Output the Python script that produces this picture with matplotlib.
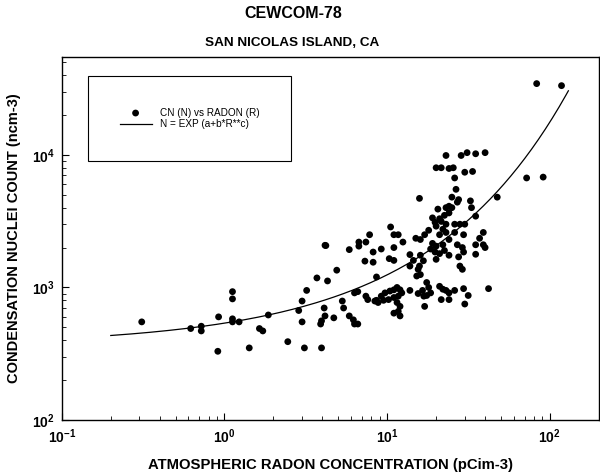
import numpy as np
import matplotlib
matplotlib.use("Agg")
import matplotlib.pyplot as plt
from matplotlib.ticker import FuncFormatter, LogLocator

plt.rcParams['font.family'] = ['Liberation Sans', 'DejaVu Sans']
plt.rcParams['mathtext.fontset'] = 'custom'
plt.rcParams['mathtext.rm'] = 'Liberation Sans'
plt.rcParams['mathtext.bf'] = 'Liberation Sans:bold'

# === DATA ===
radon = [
    # low radon end
    0.31, 0.62, 0.72, 0.72, 0.92, 0.91, 1.12, 1.12, 1.12, 1.12, 1.23, 1.42,
    1.64, 1.72, 1.86, 2.45, 2.86, 3.0, 3.0, 3.1, 3.2, 3.7, 3.95, 3.9, 3.95,
    4.1, 4.15, 4.2, 4.3, 4.15, 4.7, 4.9, 5.3, 5.4, 5.85, 5.85, 6.2, 6.3, 6.6,
    6.3, 6.6, 6.7, 6.7, 7.4, 7.8, 7.3, 7.6,
    # middle
    23, 20, 21.5, 24, 15.8, 20.5, 24, 19, 19.7, 21, 22.5, 10.5, 11, 11.7, 12.5,
    15, 16, 17, 18, 19, 20, 22, 24, 18.5, 19.7, 21, 22.5, 24, 8.2, 9.2, 11,
    8.2, 10.3, 11, 13.8, 16, 16.7, 15.8, 15.5, 20, 8.6, 13.8, 16, 17.5, 18,
    18.5, 16.5, 15.5, 16.8, 17.5, 21, 22, 24, 21.5, 24, 17, 13.8,
    9.7, 10.4, 11, 11.5, 12, 12.3, 11.7, 11, 10.2, 9.5, 8.8, 8.4, 11.5, 12,
    11.7, 12, 11, 7.4, 8.6, 9.2, 14.5, 15.2, 21, 23, 20,
    # upper / right side
    28.5, 31, 35, 40, 25.5, 30, 33.5, 26, 72, 26.5, 47.5, 25, 27.5, 27, 32.5,
    33, 23, 25, 24, 21.5, 35, 26, 28, 30, 23, 22, 26, 29.5, 39, 37, 35, 39,
    40, 35, 27, 29, 29.5, 27.5, 28, 29, 23, 26, 29.5, 31.5, 30, 42,
    83, 118, 91,
]
cn = [
    550, 490, 510, 470, 600, 330, 930, 820, 580, 550, 550, 350,
    490, 470, 620, 390, 670, 790, 550, 350, 950, 1180, 350, 530, 560,
    700, 2080, 2070, 1120, 610, 590, 1350, 790, 700, 1930, 610, 570, 530, 530,
    910, 930, 2050, 2200, 2200, 2500, 1580, 810,
    9900, 8000, 8000, 7900, 4700, 3900, 4100, 3350, 3100, 3300, 3500, 2860, 2500, 2500, 2200,
    2350, 2300, 2500, 2700, 2150, 2050, 2100, 2300, 1950, 1850, 1800, 1900, 1750, 1850, 1950, 2000,
    1550, 1650, 1600, 1770, 1750, 1590, 1450, 1370, 1630, 1200, 1450, 1250, 1090, 1000,
    910, 950, 900, 860, 870, 1020, 970, 910, 810, 810, 720, 950,
    910, 940, 960, 1000, 960, 910, 860, 840, 810, 800, 770, 790, 770, 720,
    660, 610, 640, 860, 800, 860, 1600, 1220, 2500, 2600, 2900,
    9900, 10400, 10200, 10400, 8000, 7400, 7500, 6700, 6700, 5500, 4800, 4800, 4600, 4400, 4500,
    4000, 4000, 4000, 3650, 3150, 3450, 3000, 3000, 3000, 3000, 2750, 2600, 2500, 2600, 2350, 2100, 2100,
    2000, 1780, 2100, 2000, 1850, 1700, 1450, 1370, 950, 950, 980, 870, 750, 980,
    34500, 33300, 6800,
]

# fitted curve N = EXP(a + b*R**c), coefficients estimated from the drawn line
a, b, c = 5.9, 0.388, 0.5
r_fit = np.logspace(np.log10(0.2), np.log10(130), 200)
n_fit = np.exp(a + b * r_fit ** c)


def pow_label(v, pos):
    return r'$\mathbf{10^{%d}}$' % round(np.log10(v))


# === PLOT ===
fig = plt.figure(figsize=(6.0, 4.73), dpi=100)
ax = fig.add_axes([0.103, 0.112, 0.895, 0.768])

ax.scatter(radon, cn, s=24, color='black', edgecolors='none', label='CN (N) vs RADON (R)', zorder=3)
ax.plot(r_fit, n_fit, color='black', lw=0.9, label='N = EXP (a+b*R**c)')

ax.set_xscale('log')
ax.set_yscale('log')
ax.set_xlim(0.1, 200)
ax.set_ylim(100, 55000)
ax.xaxis.set_major_locator(LogLocator(base=10))
ax.yaxis.set_major_locator(LogLocator(base=10))
ax.xaxis.set_major_formatter(FuncFormatter(pow_label))
ax.yaxis.set_major_formatter(FuncFormatter(pow_label))

ax.tick_params(which='both', direction='in', top=False, right=False, labelsize=10)
ax.tick_params(which='major', length=5, width=0.8, pad=5)
ax.tick_params(which='minor', length=3, width=0.6)
for s in ax.spines.values():
    s.set_linewidth(1.0)

ax.set_xlabel('ATMOSPHERIC RADON CONCENTRATION (pCim-3)', fontsize=10.7, fontweight='bold', labelpad=9)
ax.set_ylabel('CONDENSATION NUCLEI COUNT (ncm-3)', fontsize=10.5, fontweight='bold', labelpad=8)

fig.text(0.488, 0.972, 'CEWCOM-78', ha='center', va='center', fontsize=11.5, fontweight='bold')
fig.text(0.487, 0.910, 'SAN NICOLAS ISLAND, CA', ha='center', va='center', fontsize=9.7, fontweight='bold')

leg = ax.legend(loc='upper left', bbox_to_anchor=(0.048, 0.948), fontsize=7.2, frameon=True,
                fancybox=False, edgecolor='black', framealpha=1, borderpad=3.2,
                handlelength=3.2, labelspacing=0.15, markerscale=1.0, borderaxespad=0)
leg.get_frame().set_linewidth(0.8)

fig.savefig('out.png', dpi=100)
